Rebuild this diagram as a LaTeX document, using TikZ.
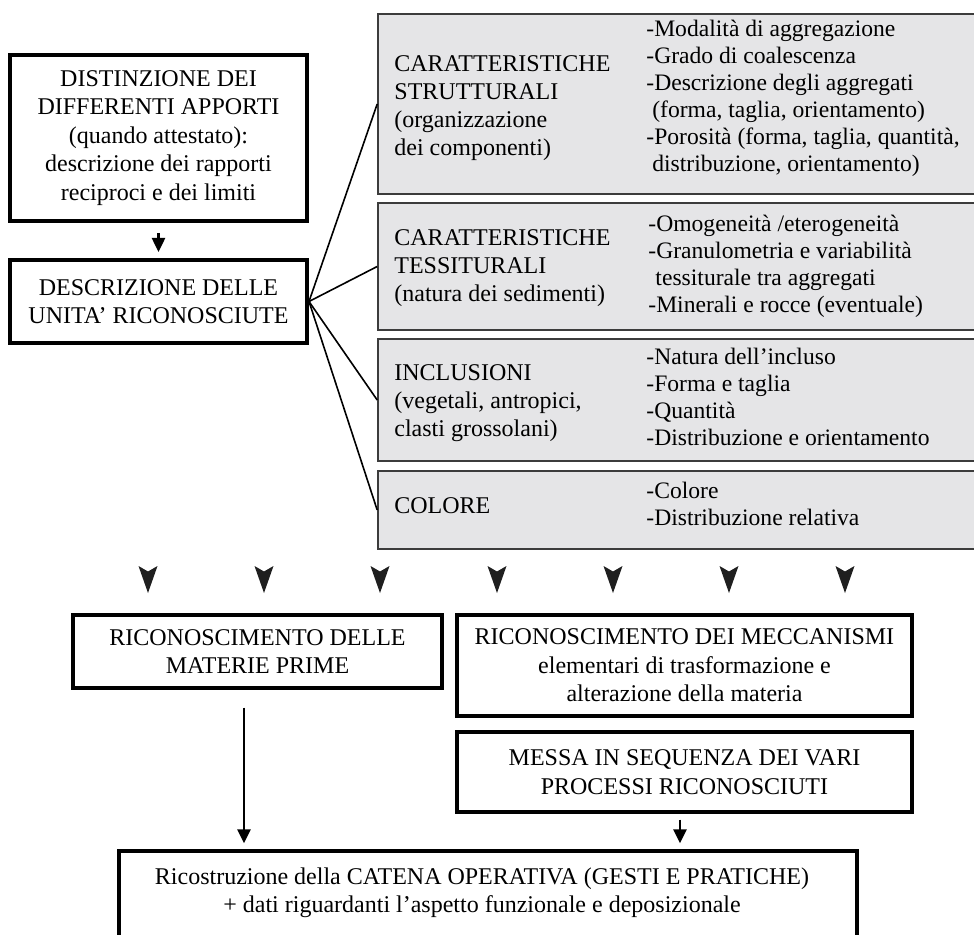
\documentclass[tikz,border=0pt]{standalone}
\usepackage{fontspec}
\setmainfont{Liberation Serif}
\usetikzlibrary{arrows.meta}
\definecolor{boxgrey}{RGB}{229,229,231}
\definecolor{greyline}{RGB}{60,60,60}
\begin{document}
\begin{tikzpicture}[x=0.5pt,y=-0.5pt,
  wbox/.style={draw=black,line width=1.65pt,fill=white,inner sep=0pt,align=center,
    font=\fontsize{12}{14.2}\selectfont},
  gbox/.style={draw=greyline,line width=0.8pt,fill=boxgrey,inner sep=0pt,minimum width=306pt},
  ltext/.style={anchor=west,align=left,inner sep=0pt,font=\fontsize{12}{14}\selectfont},
  rtext/.style={anchor=west,align=left,inner sep=0pt,font=\fontsize{11.8}{13.5}\selectfont},
  arr/.style={line width=1.25pt,-{Triangle[width=6.5pt,length=7pt]}},
  link/.style={line width=0.8pt},
  headshape/.style={fill=black!88}
]
\fill[white] (0,0) rectangle (974,935);
\useasboundingbox (0,0) rectangle (974,935);

% left boxes
\node[wbox,line width=2pt,minimum width=148.5pt,minimum height=83pt] (A) at (158.5,138)
  {DISTINZIONE DEI\\DIFFERENTI APPORTI\\(quando attestato):\\descrizione dei rapporti\\reciproci e dei limiti};
\node[wbox,line width=2pt,minimum width=148.5pt,minimum height=41.5pt] (B) at (158.5,301.5)
  {DESCRIZIONE DELLE\\UNITA’ RICONOSCIUTE};

% grey boxes
\node[gbox,minimum height=90pt] (G1) at (684,104) {};
\node[gbox,minimum height=63.5pt] (G2) at (684,266.5) {};
\node[gbox,minimum height=61pt] (G3) at (684,400) {};
\node[gbox,minimum height=39pt] (G4) at (684,510) {};

\node[ltext] (G1l) at (394,108) {CARATTERISTICHE\\STRUTTURALI\\(organizzazione\\dei componenti)};
\node[rtext] (G1r) at (646,98) {-Modalità di aggregazione\\-Grado di coalescenza\\-Descrizione degli aggregati\\\hspace{0.25em}(forma, taglia, orientamento)\\-Porosità (forma, taglia, quantità,\\\hspace{0.25em}distribuzione, orientamento)};

\node[ltext] (G2l) at (394,268) {CARATTERISTICHE\\TESSITURALI\\(natura dei sedimenti)};
\node[rtext] (G2r) at (648,266) {-Omogeneità /eterogeneità\\-Granulometria e variabilità\\\hspace{0.3em}tessiturale tra aggregati\\-Minerali e rocce (eventuale)};

\node[ltext] (G3l) at (394,403) {INCLUSIONI\\(vegetali, antropici,\\clasti grossolani)};
\node[rtext] (G3r) at (646,397) {-Natura dell’incluso\\-Forma e taglia\\-Quantità\\-Distribuzione e orientamento};

\node[ltext] (G4l) at (394,506) {COLORE};
\node[rtext] (G4r) at (646,504) {-Colore\\-Distribuzione relativa};

% connectors from B
\draw[link] (B.east) -- (G1.west);
\draw[link] (B.east) -- (G2.west);
\draw[link] (B.east) -- (G3.west);
\draw[link] (B.east) -- (G4.west);

\draw[arr,shorten <=5pt,shorten >=3pt] (A) -- (B);

% seven arrowheads
\foreach \x in {148,264,380,497,613,729,845}
  \fill[headshape] (\x-9.5,566) -- (\x,571.5) -- (\x+9.5,566) -- (\x,593) -- cycle;

% lower boxes
\node[wbox,minimum width=184.5pt,minimum height=36.5pt] (C) at (257.5,651.5)
  {RICONOSCIMENTO DELLE\\MATERIE PRIME};
\node[wbox,minimum width=227.5pt,minimum height=50.5pt] (D) at (684.5,665.5)
  {RICONOSCIMENTO DEI MECCANISMI\\elementari di trasformazione e\\alterazione della materia};
\node[wbox,minimum width=227.5pt,minimum height=40pt] (E) at (684.5,772)
  {MESSA IN SEQUENZA DEI VARI\\PROCESSI RICONOSCIUTI};
\node[wbox,minimum width=369pt,minimum height=54.5pt] (F) at (488,905.5) {};
\node[align=center,inner sep=0pt,font=\fontsize{12}{14.2}\selectfont] (Ft) at (482,893)
  {Ricostruzione della CATENA OPERATIVA (GESTI E PRATICHE)\\+ dati riguardanti l’aspetto funzionale e deposizionale};

\draw[arr,shorten <=9pt,shorten >=3pt] ([xshift=-6.75pt]C.south) -- ([xshift=-6.75pt]C.south |- F.north);
\draw[arr,shorten <=3pt,shorten >=3pt] ([xshift=-2.25pt]E.south) -- ([xshift=-2.25pt]E.south |- F.north);
\end{tikzpicture}
\end{document}
